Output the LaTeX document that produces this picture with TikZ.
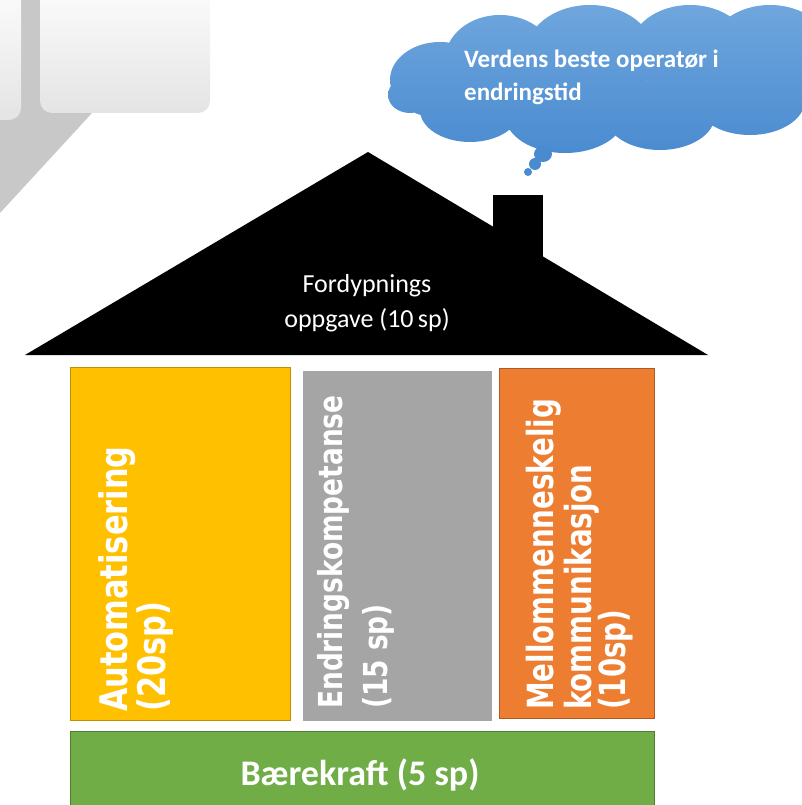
\documentclass[tikz,border=0pt]{standalone}
\usepackage{fontspec}
\newfontfamily\calfont{Carlito}
\newfontfamily\dvfont{DejaVu Sans}
\definecolor{bggray}{HTML}{C8C8C8}
\definecolor{boxgray}{HTML}{E4E4E4}
\definecolor{cyellow}{HTML}{FFC000}
\definecolor{cyellowd}{HTML}{BF9000}
\definecolor{cgray}{HTML}{A5A5A5}
\definecolor{corange}{HTML}{ED7D31}
\definecolor{corranged}{HTML}{AE5A21}
\definecolor{cgreen}{HTML}{70AD47}
\definecolor{cgreend}{HTML}{507E32}
\definecolor{cloudtop}{HTML}{6FA6DD}
\definecolor{cloudbot}{HTML}{4A8BD0}
\tikzset{
  pillar/.style={anchor=north west, inner sep=0pt, line width=1.2pt},
  vlabel/.style={rotate=90, anchor=base west, inner sep=0pt, text=white},
  whitebox/.style={top color=white, bottom color=boxgray, rounded corners=12pt},
  wtext/.style={inner sep=0pt, text=white}
}
\newcommand{\sqz}[2]{\scalebox{#1}[1]{#2}}
\begin{document}
\begin{tikzpicture}[x=1pt,y=-1pt]
\useasboundingbox (0,0) rectangle (801,805);
% background decoration
\fill[bggray] (0,0) -- (196,0) -- (0,213) -- cycle;
\shade[whitebox] (-30,-30) rectangle (21,120);
\shade[whitebox] (40,-30) rectangle (210,113);
% cloud
\shade[top color=cloudtop, bottom color=cloudbot]
  (440,80) ellipse (50 and 38)
  (500,60) ellipse (55 and 45)
  (590,55) ellipse (65 and 50)
  (690,50) ellipse (60 and 45)
  (770,50) ellipse (60 and 45)
  (470,110) ellipse (50 and 32)
  (565,115) ellipse (60 and 38)
  (660,115) ellipse (55 and 35)
  (750,100) ellipse (55 and 35)
  (410,95) ellipse (22 and 18);
\fill[cloudbot] (543,154) ellipse (9 and 8) (535,164) ellipse (6 and 6) (528,172) ellipse (4 and 4);
\node[wtext, anchor=base west, font=\calfont\bfseries\fontsize{25}{30}\selectfont] (thought1) at (464,68) {Verdens beste operatør i};
\node[wtext, anchor=base west, font=\calfont\bfseries\fontsize{25}{30}\selectfont] (thought2) at (464,101) {endringstid};
% roof
\fill[black] (25,355) -- (368,152) -- (708,355) -- cycle;
\fill[black] (493,195) rectangle (543,270);
\node[wtext, anchor=base, font=\calfont\fontsize{26}{30}\selectfont] (roof1) at (367,292) {Fordypnings};
\node[wtext, anchor=base, font=\calfont\fontsize{26}{30}\selectfont] (roof2) at (367,327) {oppgave (10\,sp)};
% pillars
\node[pillar, fill=cyellow, draw=cyellowd, minimum width=220pt, minimum height=353pt] (auto) at (70,367) {};
\node[pillar, fill=cgray, minimum width=189pt, minimum height=350pt] (endr) at (302,370) {};
\node[pillar, fill=corange, draw=corranged, minimum width=155pt, minimum height=350pt] (mell) at (499,368) {};
\node[pillar, fill=cgreen, draw=cgreend, minimum width=584pt, minimum height=84pt] (baer) at (70,731) {};
\node[wtext, anchor=base, font=\calfont\bfseries\fontsize{36}{40}\selectfont] (baertxt) at (360,785) {Bærekraft (5 sp)};
% pillar labels
\node[vlabel, font=\dvfont\bfseries\fontsize{38}{40}\selectfont] (auto1) at (127,712) {\sqz{0.8}{Automatisering}};
\node[vlabel, font=\dvfont\bfseries\fontsize{38}{40}\selectfont] (auto2) at (165,712) {\sqz{0.8}{(20sp)}};
\node[vlabel, font=\dvfont\bfseries\fontsize{33}{40}\selectfont] (endr1) at (342,709) {\sqz{0.8}{Endringskompetanse}};
\node[vlabel, font=\dvfont\bfseries\fontsize{33}{40}\selectfont] (endr2) at (387,709) {\sqz{0.8}{(15 sp)}};
\node[vlabel, font=\dvfont\bfseries\fontsize{36}{40}\selectfont] (mell1) at (553,710) {\sqz{0.77}{Mellommenneskelig}};
\node[vlabel, font=\dvfont\bfseries\fontsize{36}{40}\selectfont] (mell2) at (591,710) {\sqz{0.77}{kommunikasjon}};
\node[vlabel, font=\dvfont\bfseries\fontsize{36}{40}\selectfont] (mell3) at (625,710) {\sqz{0.77}{(10sp)}};
\end{tikzpicture}
\end{document}
